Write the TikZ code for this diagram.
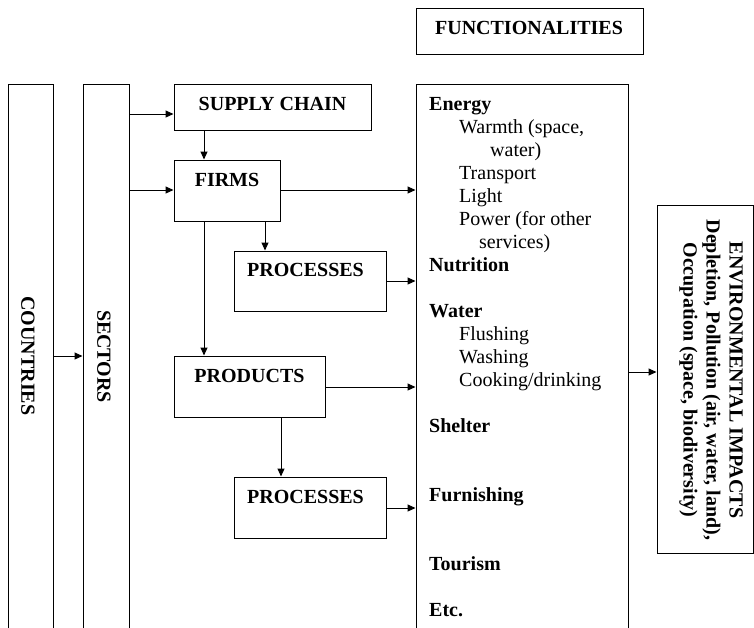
\documentclass[tikz,border=0pt]{standalone}
\usepackage{fontspec}
\setmainfont{Liberation Serif}
\usetikzlibrary{arrows.meta}
\begin{document}
\begin{tikzpicture}[x=1pt,y=-1pt,
  box/.style={draw, line width=1pt, inner sep=0pt},
  arr/.style={line width=1pt, -{Triangle[length=8pt,width=7pt]}},
  lbl/.style={font=\fontsize{20}{23}\selectfont\bfseries, inner sep=0pt},
  txt/.style={font=\fontsize{20}{23}\selectfont, inner sep=0pt, align=left}]
\useasboundingbox (0,0) rectangle (754,627);
\clip (0,0) rectangle (754,627);
% boxes (open at the bottom: drawn past the page edge)
\node[box, minimum width=45pt, minimum height=580pt] (countries) at (30.5,374) {};
\node[box, minimum width=46pt, minimum height=580pt] (sectors) at (106,374) {};
\node[box, minimum width=197pt, minimum height=46pt] (supply) at (272.5,107) {};
\node[box, minimum width=106pt, minimum height=61pt] (firms) at (227,190.5) {};
\node[box, minimum width=152pt, minimum height=60pt] (proca) at (310,281) {};
\node[box, minimum width=151pt, minimum height=61pt] (products) at (249.5,386.5) {};
\node[box, minimum width=152pt, minimum height=61pt] (procb) at (310,507.5) {};
\node[box, minimum width=227pt, minimum height=46pt] (funlab) at (529.5,31) {};
\node[box, minimum width=212pt, minimum height=580pt] (func) at (522,374) {};
\node[box, minimum width=96pt, minimum height=348pt] (env) at (705,379) {};
% labels
\node[lbl, rotate=-90] (countriesT) at (28,356) {COUNTRIES};
\node[lbl, rotate=-90] (sectorsT) at (104,356.5) {SECTORS};
\node[lbl, anchor=base] (supplyT) at (272.5,110) {SUPPLY CHAIN};
\node[lbl, anchor=base] (firmsT) at (227,186) {FIRMS};
\node[lbl, anchor=base] (procaT) at (305.5,276) {PROCESSES};
\node[lbl, anchor=base] (productsT) at (249.5,382) {PRODUCTS};
\node[lbl, anchor=base] (procbT) at (305.5,503) {PROCESSES};
\node[lbl, anchor=base] (funlabT) at (529,34) {FUNCTIONALITIES};
\node[lbl, rotate=-90, align=center] (envT) at (711,380)
  {ENVIRONMENTAL IMPACTS\\ Depletion, Pollution (air, water, land),\\ Occupation (space, biodiversity)};
\node[txt, anchor=north west] (funcT) at (429,93.9) {\strut\textbf{Energy}\\
\hspace*{30pt}Warmth (space,\\
\hspace*{61pt}water)\\
\hspace*{30pt}Transport\\
\hspace*{30pt}Light\\
\hspace*{30pt}Power (for other\\
\hspace*{50pt}services)\\
\textbf{Nutrition}\\[23pt]
\textbf{Water}\\
\hspace*{30pt}Flushing\\
\hspace*{30pt}Washing\\
\hspace*{30pt}Cooking/drinking\\[23pt]
\textbf{Shelter}\\[46pt]
\textbf{Furnishing}\\[46pt]
\textbf{Tourism}\\[23pt]
\textbf{Etc.}};
% connectors
\draw[arr] (countries.east |- 0,356) -- (sectors.west |- 0,356);
\draw[arr] (sectors.east |- 0,114) -- (supply.west |- 0,114);
\draw[arr] (sectors.east |- 0,190) -- (firms.west |- 0,190);
\draw[arr] (supply.south -| 204,0) -- (firms.north -| 204,0);
\draw[arr] (firms.east |- 0,190) -- (func.west |- 0,190);
\draw[arr] (firms.south -| 265,0) -- (proca.north -| 265,0);
\draw[arr] (proca.east |- 0,281) -- (func.west |- 0,281);
\draw[arr] (firms.south -| 204,0) -- (products.north -| 204,0);
\draw[arr] (products.east |- 0,387) -- (func.west |- 0,387);
\draw[arr] (products.south -| 281,0) -- (procb.north -| 281,0);
\draw[arr] (procb.east |- 0,508) -- (func.west |- 0,508);
\draw[arr] (func.east |- 0,372) -- (env.west |- 0,372);
\end{tikzpicture}
\end{document}
